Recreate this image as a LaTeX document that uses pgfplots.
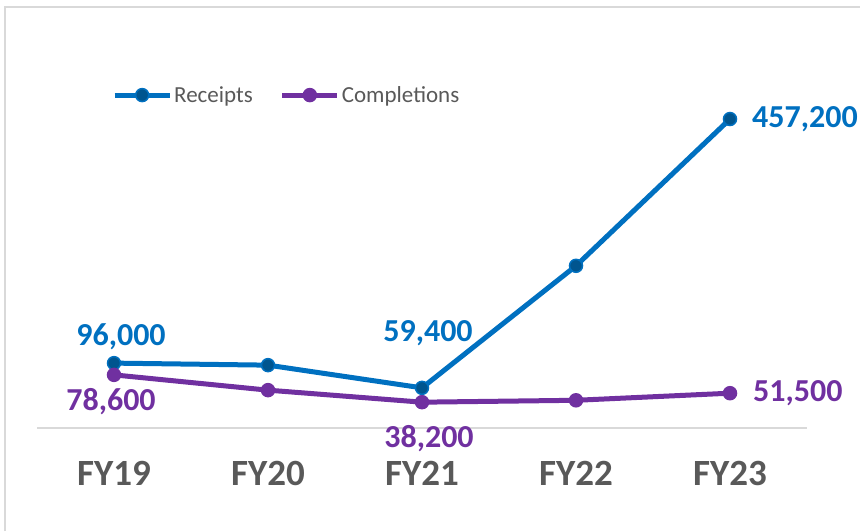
\documentclass[border=0pt]{standalone}
\usepackage{pgfplots}
\pgfplotsset{compat=1.18}
\usepackage{fontspec}
\setmainfont{Carlito}
\definecolor{rblue}{HTML}{0070C0}
\definecolor{rdark}{HTML}{00558F}
\definecolor{cpurp}{HTML}{7030A0}
\definecolor{tgray}{HTML}{595959}
\definecolor{lgray}{HTML}{D9D9D9}
\begin{document}
\begin{tikzpicture}
\useasboundingbox (-37pt,-103pt) rectangle (823pt,428pt);
\draw[lgray, line width=1.5pt] (-32pt,-103pt) -- (-32pt,421pt) -- (823pt,421pt);
\begin{axis}[
  at={(0pt,0pt)}, anchor=south west,
  scale only axis, width=770pt, height=405.5pt,
  xmin=-0.5, xmax=4.5, ymin=0, ymax=600000,
  axis x line=bottom, axis y line=none,
  x axis line style={draw=lgray, line width=1.5pt, -},
  xtick={0,1,2,3,4},
  xticklabels={FY19,FY20,FY21,FY22,FY23},
  major tick length=0pt,
  xticklabel style={font=\fontsize{37}{40}\selectfont\bfseries, text=tgray, yshift=-30pt},
  clip=false,
  /pgf/number format/fixed,
  /pgf/number format/precision=0,
  /pgf/number format/assume math mode=true,
  /pgf/number format/1000 sep={,},
  legend columns=2,
  legend style={draw=none, fill=none, at={(0.0974,0.821)}, anchor=west, inner sep=0pt,
    font=\fontsize{23}{26}\selectfont, text=tgray,
    /tikz/every even column/.append style={column sep=25pt},
    nodes={inner sep=2pt}},
  legend image code/.code={\draw[mark repeat=2,mark phase=2,#1] plot coordinates {(0pt,0pt) (27.5pt,0pt) (55pt,0pt)};},
]
\addplot[rblue, line width=5pt, mark=*, mark size=6.5pt, mark options={fill=rdark, draw=rblue, line width=1.5pt}]
  coordinates {(0,96000) (1,93000) (2,59400) (3,240000) (4,457200)};
\addlegendentry{Receipts}
\addplot[cpurp, line width=5pt, mark=*, mark size=6.5pt, mark options={fill=cpurp, draw=cpurp, line width=1.5pt}]
  coordinates {(0,78600) (1,56000) (2,38200) (3,41000) (4,51500)};
\addlegendentry{Completions}
% data labels
\pgfplotsset{lbl/.style={draw=none, mark=none, forget plot, nodes near coords, point meta=y,
  every node near coord/.append style={font=\fontsize{32}{34}\selectfont\bfseries, inner sep=0pt}}}
\addplot[lbl, every node near coord/.append style={text=rblue, anchor=center, xshift=7pt, yshift=26pt}]
  coordinates {(0,96000)};
\addplot[lbl, every node near coord/.append style={text=rblue, anchor=center, xshift=6pt, yshift=55pt}]
  coordinates {(2,59400)};
\addplot[lbl, every node near coord/.append style={text=rblue, anchor=west, xshift=22pt}]
  coordinates {(4,457200)};
\addplot[lbl, every node near coord/.append style={text=cpurp, anchor=center, xshift=-3pt, yshift=-27pt}]
  coordinates {(0,78600)};
\addplot[lbl, every node near coord/.append style={text=cpurp, anchor=center, xshift=7pt, yshift=-36pt}]
  coordinates {(2,38200)};
\addplot[lbl, every node near coord/.append style={text=cpurp, anchor=west, xshift=23pt}]
  coordinates {(4,51500)};
\end{axis}
\end{tikzpicture}
\end{document}
